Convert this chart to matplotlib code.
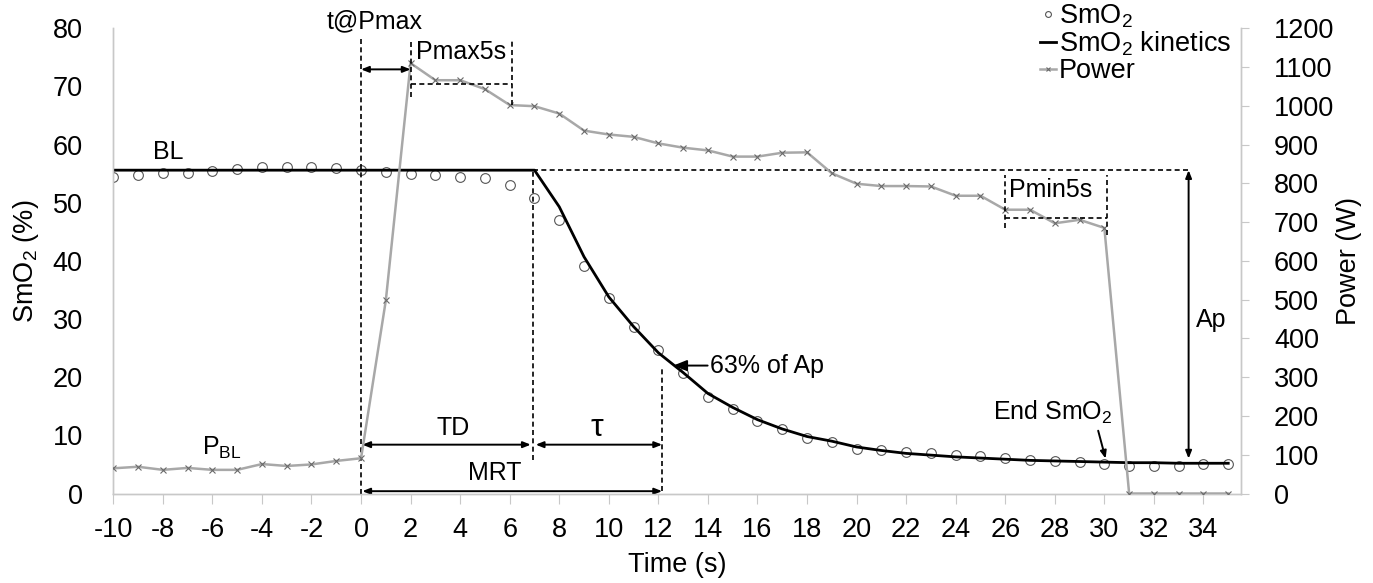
import matplotlib
matplotlib.use("Agg")
import matplotlib.pyplot as plt
import numpy as np

plt.rcParams["font.family"] = ["Liberation Sans", "DejaVu Sans"]
plt.rcParams["mathtext.default"] = "regular"
plt.rcParams["axes.unicode_minus"] = False

# ---- data ----
time = list(range(-10, 36))
smo2 = [54.4, 54.8, 55.1, 55.1, 55.5, 55.8, 56.1, 56.2, 56.2, 56.0,
        55.7, 55.3, 54.9, 54.8, 54.4, 54.3, 53.1, 50.9, 47.0, 39.2,
        33.6, 28.7, 24.7, 20.7, 16.6, 14.6, 12.5, 11.1, 9.5, 8.8,
        7.7, 7.5, 7.2, 7.0, 6.6, 6.5, 6.1, 5.8, 5.6, 5.4,
        5.1, 4.8, 4.7, 4.7, 5.0, 5.1]
power = [65, 69, 61, 66, 61, 61, 76, 71, 75, 84,
         91, 498, 1110, 1066, 1066, 1043, 1002, 999, 980, 936,
         926, 920, 903, 892, 885, 869, 869, 879, 880, 826,
         799, 793, 793, 792, 768, 768, 732, 732, 697, 706,
         685, 0, 0, 0, 0, 0]

kin_time = [-10, 7, 8, 9, 10, 11, 12, 13, 14, 15, 16, 17, 18, 19, 20, 21,
            22, 23, 24, 25, 26, 27, 28, 29, 30, 31, 32, 33, 34, 35]
kin_smo2 = [55.6, 55.6, 49.3, 40.7, 33.8, 28.7, 24.2, 20.8, 17.2, 14.8, 12.7, 11.1,
            9.8, 9.0, 8.0, 7.4, 6.9, 6.6, 6.3, 6.1, 5.9, 5.7, 5.6, 5.5,
            5.4, 5.3, 5.3, 5.2, 5.2, 5.2]

# kinetics parameters
BL = 55.6
TD = 6.95
MRT = 12.15
t_ap = 33.4
end_smo2 = 6.0
pct63 = 22.0
t_pmax = 2
pmax_win = (2, 6)
pmin_win = (26, 30)

dash = (0, (3, 2))
gray = "#c8c8c8"
tfs = 19.5   # tick / axis label size
fs = 18      # annotation size

fig = plt.figure(figsize=(13.73, 5.83), dpi=100)
ax = fig.add_axes([0.0825, 0.1535, 0.8211, 0.798])
ax2 = ax.twinx()

ax.plot(time, smo2, "o", mfc="none", mec="#555555", ms=7, mew=0.8, label="SmO$_2$", zorder=3)
ax.plot(kin_time, kin_smo2, color="black", lw=2, label="SmO$_2$ kinetics", zorder=4)
ax2.plot(time, power, color="#a8a8a8", lw=1.8, marker="x", ms=4.5, mec="#6a6a6a", mew=0.8,
         label="Power", zorder=3)

ax.set_xlim(-10, 35.5)
ax.set_ylim(0, 80)
ax2.set_ylim(0, 1200)
ax.set_xticks(range(-10, 36, 2))
ax.set_yticks(range(0, 81, 10))
ax2.set_yticks(range(0, 1201, 100))

for a in (ax, ax2):
    for s in a.spines.values():
        s.set_color(gray)
        s.set_linewidth(1)
    a.spines["top"].set_visible(False)
ax.tick_params(axis="x", labelsize=tfs, length=7, color=gray, pad=10)
ax.tick_params(axis="y", labelsize=tfs, length=0, pad=22)
ax2.tick_params(axis="y", labelsize=tfs, length=6, color=gray, pad=18)

ax.set_xlabel("Time (s)", fontsize=tfs)
ax.xaxis.set_label_coords(0.5, -0.125)
ax.set_ylabel("SmO$_2$ (%)", fontsize=tfs)
ax.yaxis.set_label_coords(-0.064, 0.5)
ax2.set_ylabel("Power (W)", fontsize=tfs)
ax2.yaxis.set_label_coords(1.085, 0.5)

k = dict(color="black", lw=1.2, ls=dash, zorder=5)
arr2 = dict(arrowstyle="<|-|>,head_length=0.45,head_width=0.18", color="black", lw=1.4,
            shrinkA=0, shrinkB=0)
arr1 = dict(arrowstyle="-|>,head_length=0.45,head_width=0.18", color="black", lw=1.4,
            shrinkA=0, shrinkB=0)

# baseline continuation and Ap
ax.plot([TD, t_ap], [BL, BL], **k)
ax.annotate("", xy=(t_ap, end_smo2), xytext=(t_ap, BL), arrowprops=arr2)
ax.text(t_ap + 0.3, 29.8, "Ap", fontsize=fs, ha="left", va="center")
ax.text(-7.8, 58.8, "BL", fontsize=fs, ha="center", va="center")
ax.text(-5.6, 7.9, "P$_{BL}$", fontsize=fs, ha="center", va="center")

# TD, tau, MRT
ax.plot([0, 0], [0, 78.3], **k)
ax.plot([TD, TD], [5.8, BL], **k)
ax.plot([MRT, MRT], [0.4, pct63], **k)
ax.annotate("", xy=(TD - 0.1, 8.4), xytext=(0.05, 8.4), arrowprops=arr2)
ax.annotate("", xy=(MRT, 8.4), xytext=(TD + 0.1, 8.4), arrowprops=arr2)
ax.annotate("", xy=(MRT, 0.4), xytext=(0.05, 0.4), arrowprops=arr2)
ax.text(3.7, 11.2, "TD", fontsize=fs, ha="center", va="center")
ax.text(9.5, 11.2, "τ", fontsize=fs + 5, ha="center", va="center")
ax.text(5.4, 3.6, "MRT", fontsize=fs, ha="center", va="center")
ax.annotate("63% of Ap", xy=(12.6, pct63), xytext=(14.1, pct63), fontsize=fs,
            va="center", arrowprops=arr1)
ax.text(27.9, 13.9, "End SmO$_2$", fontsize=fs, ha="center", va="center")
ax.annotate("", xy=(30.05, end_smo2), xytext=(29.75, 10.8), arrowprops=arr1)

# Pmax / Pmin windows on the power axis
p = dict(zip(time, power))
pmax_mean = np.mean([p[t] for t in range(pmax_win[0], pmax_win[1] + 1)])
pmin_mean = np.mean([p[t] for t in range(pmin_win[0], pmin_win[1] + 1)])
top_max = 1168
ax2.plot([pmax_win[0], pmax_win[0]], [pmax_mean - 35, top_max], **k)
ax2.plot([pmax_win[1] + 0.1, pmax_win[1] + 0.1], [p[pmax_win[1]], top_max], **k)
ax2.plot([pmax_win[0], pmax_win[1] + 0.1], [pmax_mean, pmax_mean], **k)
ax2.text(4.05, 1138, "Pmax5s", fontsize=fs, ha="center", va="center")
ax2.annotate("", xy=(t_pmax, 1094), xytext=(0, 1094), arrowprops=arr2)
ax2.text(0.56, 1218, "t@Pmax", fontsize=fs, ha="center", va="center")

top_min = 822
ax2.plot([pmin_win[0], pmin_win[0]], [pmin_mean - 25, top_min], **k)
ax2.plot([pmin_win[1] + 0.1, pmin_win[1] + 0.1], [p[pmin_win[1]] - 18, top_min], **k)
ax2.plot([pmin_win[0], pmin_win[1] + 0.1], [pmin_mean, pmin_mean], **k)
ax2.text(27.85, 783, "Pmin5s", fontsize=fs, ha="center", va="center")

h1, l1 = ax.get_legend_handles_labels()
h2, l2 = ax2.get_legend_handles_labels()
fig.legend(h1 + h2, l1 + l2, loc="upper left", bbox_to_anchor=(1040 / 1373, 1 - 2 / 583),
           frameon=False, fontsize=tfs, handlelength=0.6, handletextpad=0.1,
           labelspacing=0.0, borderpad=0, borderaxespad=0, markerscale=0.6)

fig.savefig("out.png", dpi=100)
